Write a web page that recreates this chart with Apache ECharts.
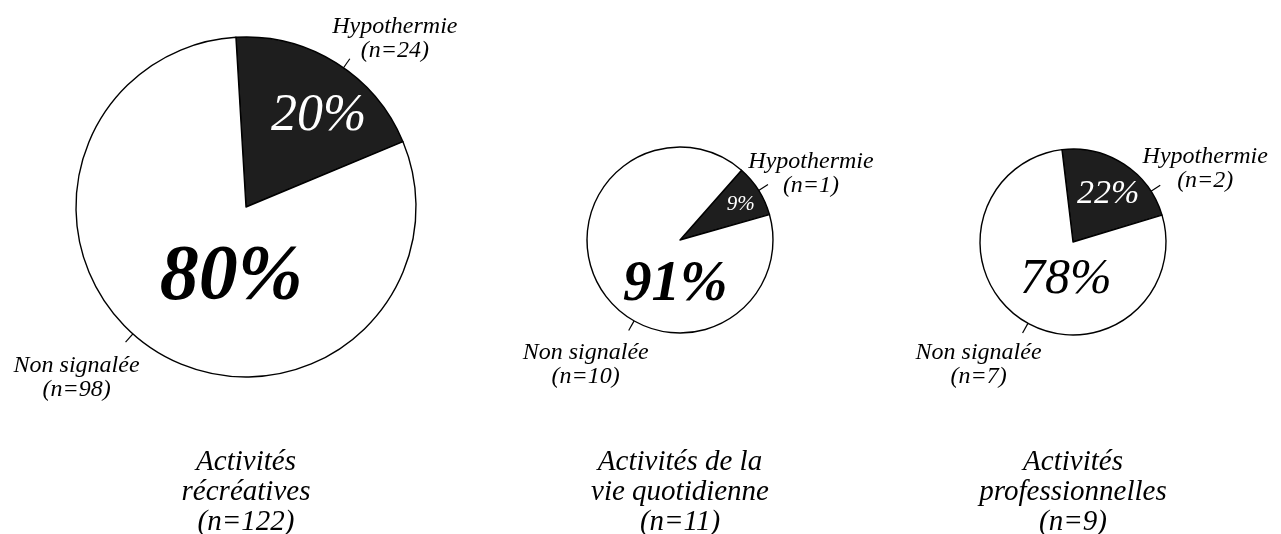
<!DOCTYPE html>
<html>
<head>
<meta charset="utf-8">
<style>
    html, body { margin: 0; padding: 0; background: #fff; }
    #chart { width: 1281px; height: 534px; }
</style>
<script src="https://cdn.jsdelivr.net/npm/echarts@6/dist/echarts.min.js"></script>
</head>
<body>
<div id="chart"></div>
<script>
// Data
// ------------------------------

var groups = ['Activités\nrécréatives', 'Activités de la\nvie quotidienne', 'Activités\nprofessionnelles'];
var categories = ['Hypothermie', 'Non signalée'];
var hypothermie = [24, 1, 2];
var nonSignalee = [98, 10, 7];


// Layout / styles
// ------------------------------

var FONT = '"Liberation Serif", "DejaVu Serif", serif';
var sliceColors = ['#1e1e1e', '#ffffff'];

var pieCenters = [[246, 207], [680, 240], [1073, 242]];
var pieRadius = [170, 93, 93];
var pieStart = [93.4, 48.6, 96.8];

// percentage labels inside the slices: [fontSize, bold?, colour]
var pctStyle = [
    [[52, false, '#fff'], [78, true, '#000']],
    [[21, false, '#fff'], [57, true, '#000']],
    [[34, false, '#fff'], [50, false, '#000']]
];
// nudge of the inside labels from the default spot
var pctNudge = [
    [[26, -16], [32, -4]],
    [[19, -9], [37, 19]],
    [[8, -7], [20, -4]]
];
// leader line rotation (deg) and outside label offset from line end
var lineTurn = [[3, 9.7], [0, -28.2], [23.8, -4.2]];
var nameOffset = [
    [[45, -20], [-49, 36]],
    [[43, -11], [-43, 34]],
    [[45, -17], [-44, 32]]
];

var chart = echarts.init(document.getElementById('chart'));

var series = [];

groups.forEach(function(g, k) {
    var values = [hypothermie[k], nonSignalee[k]];
    var total = values[0] + values[1];
    var c = pieCenters[k];

    // slices + percentages
    series.push({
        type: 'pie',
        center: c,
        radius: pieRadius[k],
        startAngle: pieStart[k],
        clockwise: true,
        silent: true,
        animation: false,
        avoidLabelOverlap: false,
        itemStyle: { borderColor: '#000', borderWidth: 1.4 },
        label: {
            show: true,
            position: 'inside',
            fontFamily: FONT,
            fontStyle: 'italic',
            formatter: function(p) {
                return Math.round(p.value / total * 100) + '%';
            }
        },
        labelLine: { show: false },
        labelLayout: function(params) {
            var r = params.labelRect;
            var n = pctNudge[k][params.dataIndex];
            return {
                x: r.x + r.width / 2 + n[0],
                y: r.y + r.height / 2 + n[1],
                align: 'center',
                verticalAlign: 'middle'
            };
        },
        data: categories.map(function(name, i) {
            var s = pctStyle[k][i];
            return {
                name: name,
                value: values[i],
                itemStyle: { color: sliceColors[i] },
                label: {
                    fontSize: s[0],
                    lineHeight: s[0],
                    fontWeight: s[1] ? 'bold' : 'normal',
                    color: s[2]
                }
            };
        })
    });

    // category names with leader lines
    series.push({
        type: 'pie',
        center: c,
        radius: pieRadius[k],
        startAngle: pieStart[k],
        clockwise: true,
        silent: true,
        animation: false,
        avoidLabelOverlap: false,
        itemStyle: { color: 'transparent', borderWidth: 0 },
        label: {
            show: true,
            position: 'outside',
            fontFamily: FONT,
            fontStyle: 'italic',
            fontSize: 24,
            lineHeight: 24,
            color: '#000',
            formatter: '{b}\n(n={c})'
        },
        labelLine: {
            show: true,
            length: 11,
            length2: 2,
            lineStyle: { color: '#000', width: 1.2 }
        },
        labelLayout: function(params) {
            var pts = params.labelLinePoints;
            var t = lineTurn[k][params.dataIndex] * Math.PI / 180;
            var cos = Math.cos(t), sin = Math.sin(t);
            var rot = function(p) {
                var x = p[0] - c[0], y = p[1] - c[1];
                return [c[0] + x * cos - y * sin, c[1] + x * sin + y * cos];
            };
            var a = rot(pts[0]), b = rot(pts[1]);
            var off = nameOffset[k][params.dataIndex];
            return {
                x: b[0] + off[0],
                y: b[1] + off[1],
                align: 'center',
                verticalAlign: 'middle',
                labelLinePoints: [a, b]
            };
        },
        data: categories.map(function(name, i) {
            return { name: name, value: values[i] };
        })
    });
});

var option = {
    backgroundColor: '#fff',
    title: groups.map(function(g, k) {
        return {
            text: g + '\n(n=' + (hypothermie[k] + nonSignalee[k]) + ')',
            left: pieCenters[k][0],
            top: 447,
            textAlign: 'center',
            padding: 0,
            textStyle: {
                fontFamily: FONT,
                fontStyle: 'italic',
                fontWeight: 'normal',
                fontSize: 29,
                lineHeight: 30,
                color: '#000'
            }
        };
    }),
    series: series
};

chart.setOption(option);
</script>
</body>
</html>
